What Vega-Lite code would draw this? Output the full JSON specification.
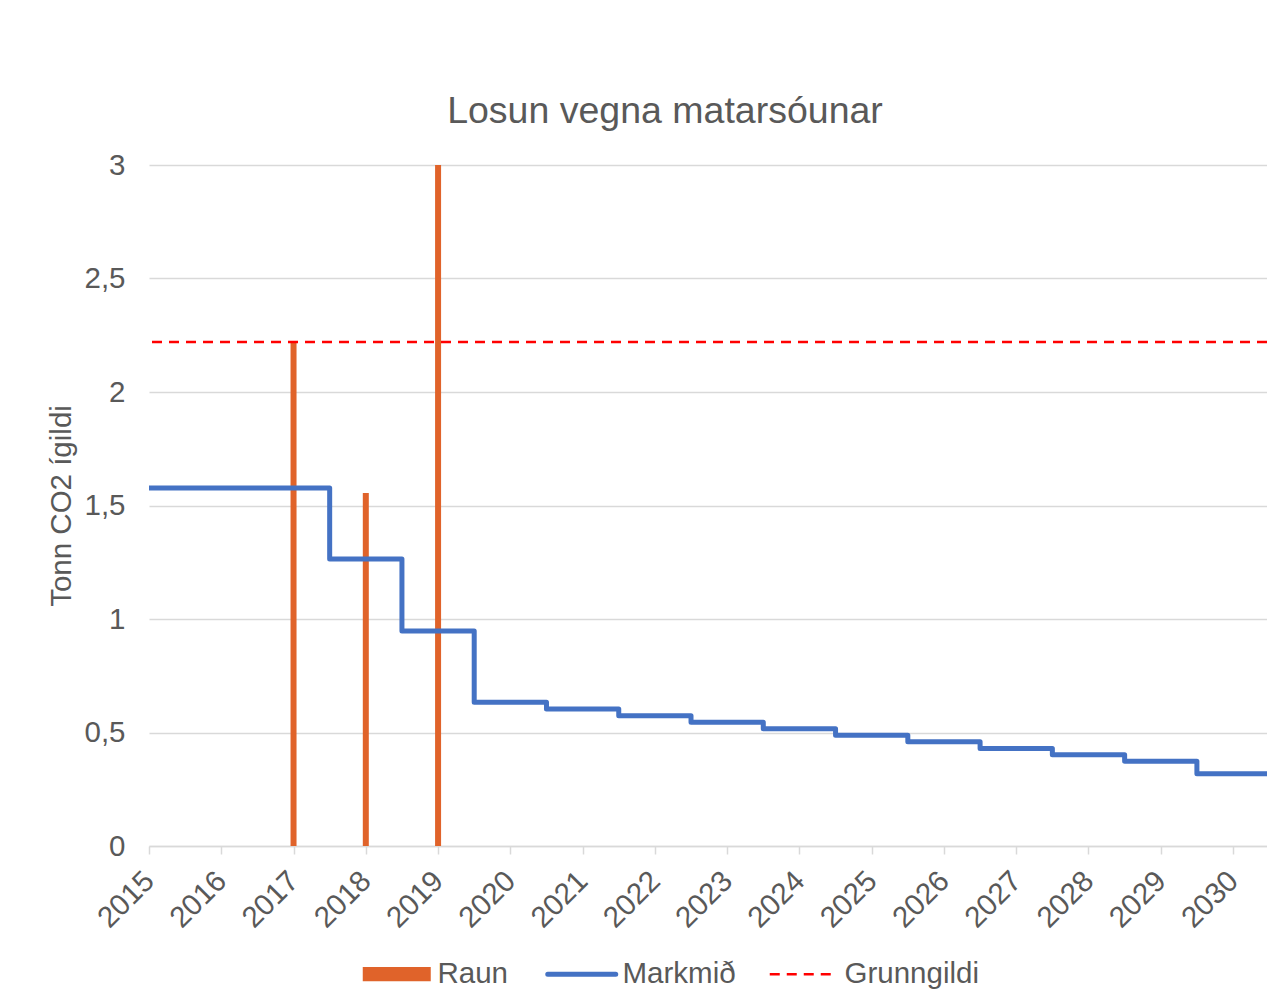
{
  "$schema": "https://vega.github.io/schema/vega-lite/v6.json",
  "width": 1118,
  "height": 681,
  "autosize": {"type": "none"},
  "padding": {"left": 149, "top": 165, "right": 0, "bottom": 144},
  "background": "white",
  "title": {
    "text": "Losun vegna matarsóunar",
    "fontSize": 37.5,
    "font": "Liberation Sans",
    "fontWeight": "normal",
    "color": "#595959",
    "anchor": "middle",
    "frame": "group",
    "dx": -43,
    "dy": 54,
    "offset": 44,
    "baseline": "alphabetic"
  },
  "config": {"view": {"stroke": null}, "font": "Liberation Sans"},
  "datasets": {
    "raun": [
      {"year": 2017, "value": 2.22, "series": "Raun"},
      {"year": 2018, "value": 1.555, "series": "Raun"},
      {"year": 2019, "value": 3.0, "series": "Raun"}
    ],
    "markmid": [
      {"year": 2015, "value": 1.577, "series": "Markmið"},
      {"year": 2016, "value": 1.577, "series": "Markmið"},
      {"year": 2017, "value": 1.577, "series": "Markmið"},
      {"year": 2018, "value": 1.264, "series": "Markmið"},
      {"year": 2019, "value": 0.947, "series": "Markmið"},
      {"year": 2020, "value": 0.633, "series": "Markmið"},
      {"year": 2021, "value": 0.604, "series": "Markmið"},
      {"year": 2022, "value": 0.574, "series": "Markmið"},
      {"year": 2023, "value": 0.545, "series": "Markmið"},
      {"year": 2024, "value": 0.517, "series": "Markmið"},
      {"year": 2025, "value": 0.488, "series": "Markmið"},
      {"year": 2026, "value": 0.459, "series": "Markmið"},
      {"year": 2027, "value": 0.43, "series": "Markmið"},
      {"year": 2028, "value": 0.402, "series": "Markmið"},
      {"year": 2029, "value": 0.373, "series": "Markmið"},
      {"year": 2030, "value": 0.318, "series": "Markmið"},
      {"year": 2031, "value": 0.318, "series": "Markmið"}
    ],
    "grunngildi": [
      {"value": 2.22, "series": "Grunngildi"}
    ]
  },
  "layer": [
    {
      "data": {"name": "raun"},
      "mark": {"type": "bar", "size": 6, "clip": true},
      "encoding": {
        "x": {
          "field": "year",
          "type": "quantitative",
          "scale": {"domain": [2015, 2030.47], "nice": false, "zero": false, "padding": 0},
          "axis": {
            "values": [2015, 2016, 2017, 2018, 2019, 2020, 2021, 2022, 2023, 2024, 2025, 2026, 2027, 2028, 2029, 2030],
            "format": "d",
            "labelAngle": -45,
            "labelAlign": "right",
            "labelBaseline": "middle",
            "labelFontSize": 29.5,
            "labelFont": "Liberation Sans",
            "labelColor": "#595959",
            "domainColor": "#D9D9D9",
            "domainWidth": 1.5,
            "tickColor": "#D9D9D9",
            "tickWidth": 1.5,
            "tickSize": 8,
            "grid": false,
            "title": null,
            "labelPadding": 22
          }
        },
        "y": {
          "field": "value",
          "type": "quantitative",
          "scale": {"domain": [0, 3], "nice": false},
          "axis": {
            "values": [0, 0.5, 1, 1.5, 2, 2.5, 3],
            "labelExpr": "replace(format(datum.value, '~g'), '.', ',')",
            "domain": false,
            "ticks": false,
            "gridColor": "#D9D9D9",
            "gridWidth": 1.5,
            "labelFontSize": 29.5,
            "labelFont": "Liberation Sans",
            "labelColor": "#595959",
            "labelPadding": 24,
            "title": "Tonn CO2 ígildi",
            "titleFont": "Liberation Sans",
            "titleFontSize": 29.5,
            "titleFontWeight": "normal",
            "titleColor": "#595959",
            "titleX": -79,
            "titleY": 340.5,
            "titleAngle": -90,
            "titleBaseline": "alphabetic",
            "titleAlign": "center"
          }
        },
        "color": {
          "field": "series",
          "type": "nominal",
          "scale": {"domain": ["Raun", "Markmið", "Grunngildi"], "range": ["#E0632A", "#4472C4", "#FF0000"]},
          "legend": {
            "orient": "none",
            "legendX": 233,
            "legendY": 794,
            "direction": "horizontal",
            "title": null,
            "labelFontSize": 29.5,
            "labelFont": "Liberation Sans",
            "labelColor": "#595959",
            "symbolSize": 4624,
            "labelOffset": 26,
            "columnPadding": 28,
            "encode": {
              "symbols": {
                "update": {
                  "shape": {"signal": "datum.value === 'Raun' ? 'M-1,-0.206H1V0.206H-1Z' : 'M-1,0H1'"},
                  "fill": {"signal": "datum.value === 'Raun' ? '#E0632A' : 'transparent'"},
                  "stroke": {"signal": "datum.value === 'Raun' ? 'transparent' : (datum.value === 'Grunngildi' ? '#FF0000' : '#4472C4')"},
                  "strokeWidth": {"signal": "datum.value === 'Raun' ? 0 : (datum.value === 'Grunngildi' ? 2.5 : 5)"},
                  "strokeDash": {"signal": "datum.value === 'Grunngildi' ? [10, 7] : [1, 0]"},
                  "strokeCap": {"signal": "datum.value === 'Grunngildi' ? 'butt' : 'round'"},
                  "opacity": {"value": 1}
                }
              }
            }
          }
        }
      }
    },
    {
      "data": {"name": "markmid"},
      "mark": {"type": "line", "interpolate": "step", "strokeWidth": 5, "clip": true, "strokeJoin": "round"},
      "encoding": {
        "x": {"field": "year", "type": "quantitative"},
        "y": {"field": "value", "type": "quantitative"},
        "color": {"field": "series", "type": "nominal"}
      }
    },
    {
      "data": {"name": "grunngildi"},
      "mark": {"type": "rule", "strokeWidth": 2.5, "strokeDash": [10, 7]},
      "encoding": {
        "y": {"field": "value", "type": "quantitative"},
        "color": {"field": "series", "type": "nominal"}
      }
    }
  ]
}
